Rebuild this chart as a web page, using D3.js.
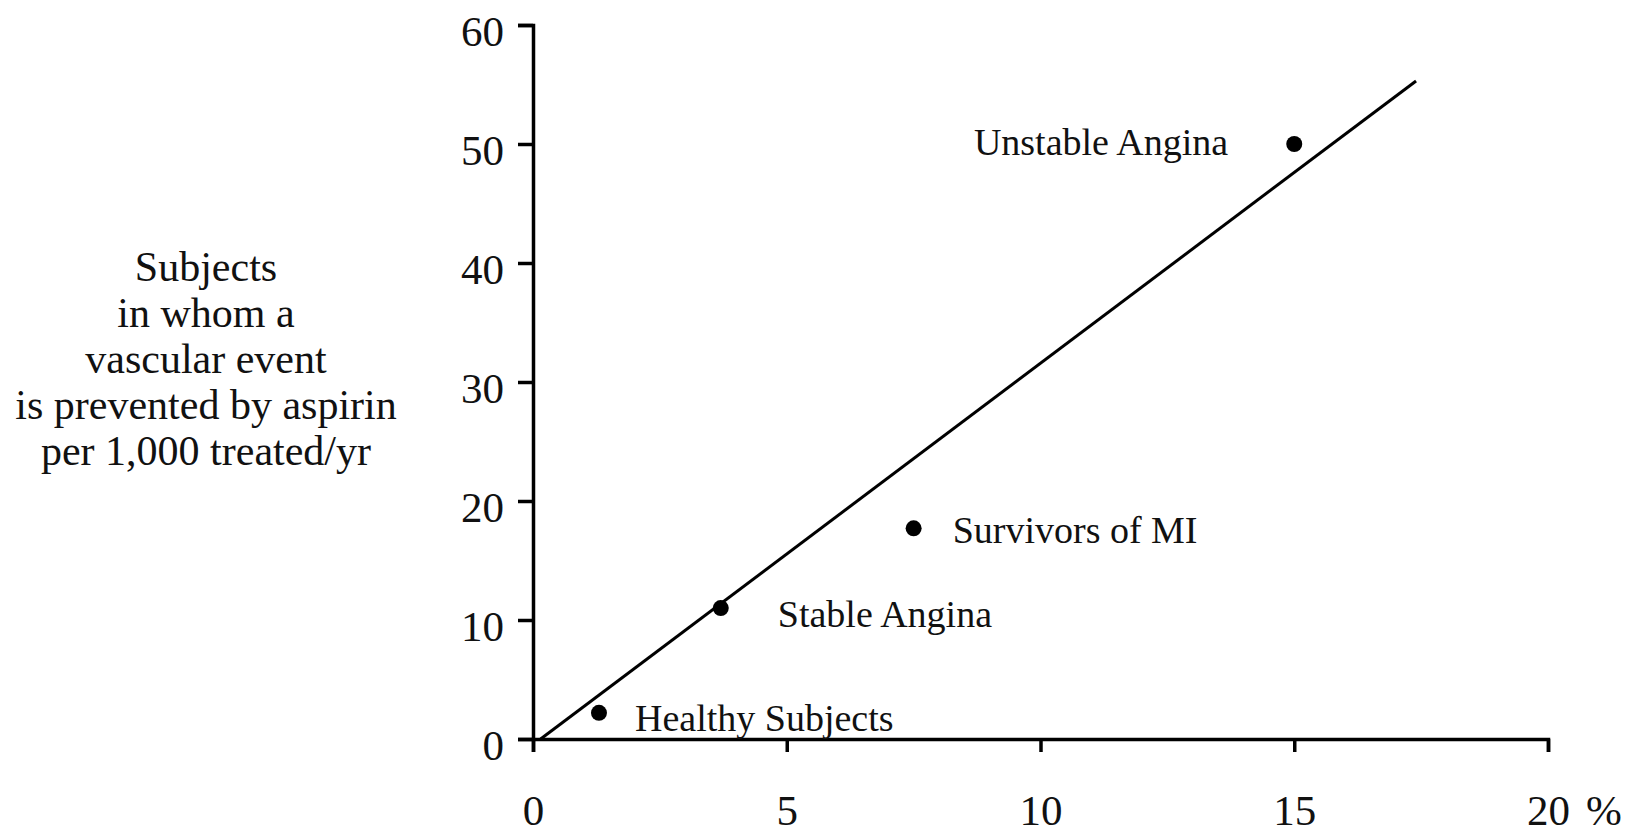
<!DOCTYPE html>
<html>
<head>
<meta charset="utf-8">
<script src="https://cdn.jsdelivr.net/npm/d3@7"></script>
<style>
  body { margin: 0; background: #fff; }
  text { font-family: "Liberation Serif", "Times New Roman", serif; fill: #111; }
  .axis path, .axis line { stroke: #000; stroke-width: 3.5px; }
</style>
</head>
<body>
<div id="viz"></div>
<script>
(function () {
  // data
  var groups = ['Healthy Subjects', 'Stable Angina', 'Survivors of MI', 'Unstable Angina'];
  var riskPct = [1.3, 3.7, 7.5, 15];       // x, % event risk per yr
  var prevented = [2.2, 11, 17.7, 50];     // y, per 1,000 treated/yr
  var fitX = [0.15, 17.4];
  var fitY = [0, 55.3];
  var xTicks = [0, 5, 10, 15, 20];
  var yTicks = [0, 10, 20, 30, 40, 50, 60];
  var yTitle = ['Subjects', 'in whom a', 'vascular event', 'is prevented by aspirin', 'per 1,000 treated/yr'];

  // label offsets relative to each dot (layout only)
  var labelPos = [
    {dx: 36, dy: 18, anchor: 'start'},
    {dx: 57, dy: 19, anchor: 'start'},
    {dx: 39, dy: 15, anchor: 'start'},
    {dx: -66, dy: 11, anchor: 'end'}
  ];

  var width = 1635, height = 834;

  var svg = d3.select('#viz').append('svg')
      .attr('width', width)
      .attr('height', height);

  var x = d3.scaleLinear().domain([0, 20]).range([533, 1548]);
  var y = d3.scaleLinear().domain([0, 60]).range([739, 25]);

  // axes
  var xAxis = svg.append('g')
      .attr('class', 'axis')
      .attr('transform', 'translate(0,' + y(0) + ')')
      .call(d3.axisBottom(x).tickValues(xTicks).tickSize(13).tickPadding(42));
  xAxis.selectAll('text')
      .attr('font-size', 43)
      .style('font-family', '"Liberation Serif", "Times New Roman", serif');

  var yAxis = svg.append('g')
      .attr('class', 'axis')
      .attr('transform', 'translate(' + x(0) + ',0)')
      .call(d3.axisLeft(y).tickValues(yTicks).tickSize(15).tickPadding(14));
  yAxis.selectAll('text')
      .attr('font-size', 43)
      .attr('dy', '0.47em')
      .style('font-family', '"Liberation Serif", "Times New Roman", serif');

  // unit after the last x tick, same baseline as tick labels
  svg.append('text')
      .attr('x', x(20) + 38)
      .attr('y', y(0) + 13 + 42)
      .attr('dy', '0.71em')
      .attr('font-size', 43)
      .text('%');

  // fitted line
  var line = d3.line()
      .x(function (d) { return x(d[0]); })
      .y(function (d) { return y(d[1]); });
  svg.append('path')
      .datum(d3.zip(fitX, fitY))
      .attr('d', line)
      .attr('fill', 'none')
      .attr('stroke', '#000')
      .attr('stroke-width', 3);

  // points
  var pts = groups.map(function (g, i) {
    return {name: g, x: riskPct[i], y: prevented[i], pos: labelPos[i]};
  });

  svg.selectAll('.dot')
      .data(pts)
      .enter().append('circle')
      .attr('class', 'dot')
      .attr('cx', function (d) { return x(d.x); })
      .attr('cy', function (d) { return y(d.y); })
      .attr('r', 8)
      .attr('fill', '#000');

  svg.selectAll('.lbl')
      .data(pts)
      .enter().append('text')
      .attr('class', 'lbl')
      .attr('x', function (d) { return x(d.x) + d.pos.dx; })
      .attr('y', function (d) { return y(d.y) + d.pos.dy; })
      .attr('text-anchor', function (d) { return d.pos.anchor; })
      .attr('font-size', 38)
      .text(function (d) { return d.name; });

  // y title, multi-line
  svg.append('g').selectAll('text')
      .data(yTitle)
      .enter().append('text')
      .attr('x', 206)
      .attr('y', function (d, i) { return 281 + i * 46; })
      .attr('text-anchor', 'middle')
      .attr('font-size', 42)
      .text(function (d) { return d; });
})();
</script>
</body>
</html>
